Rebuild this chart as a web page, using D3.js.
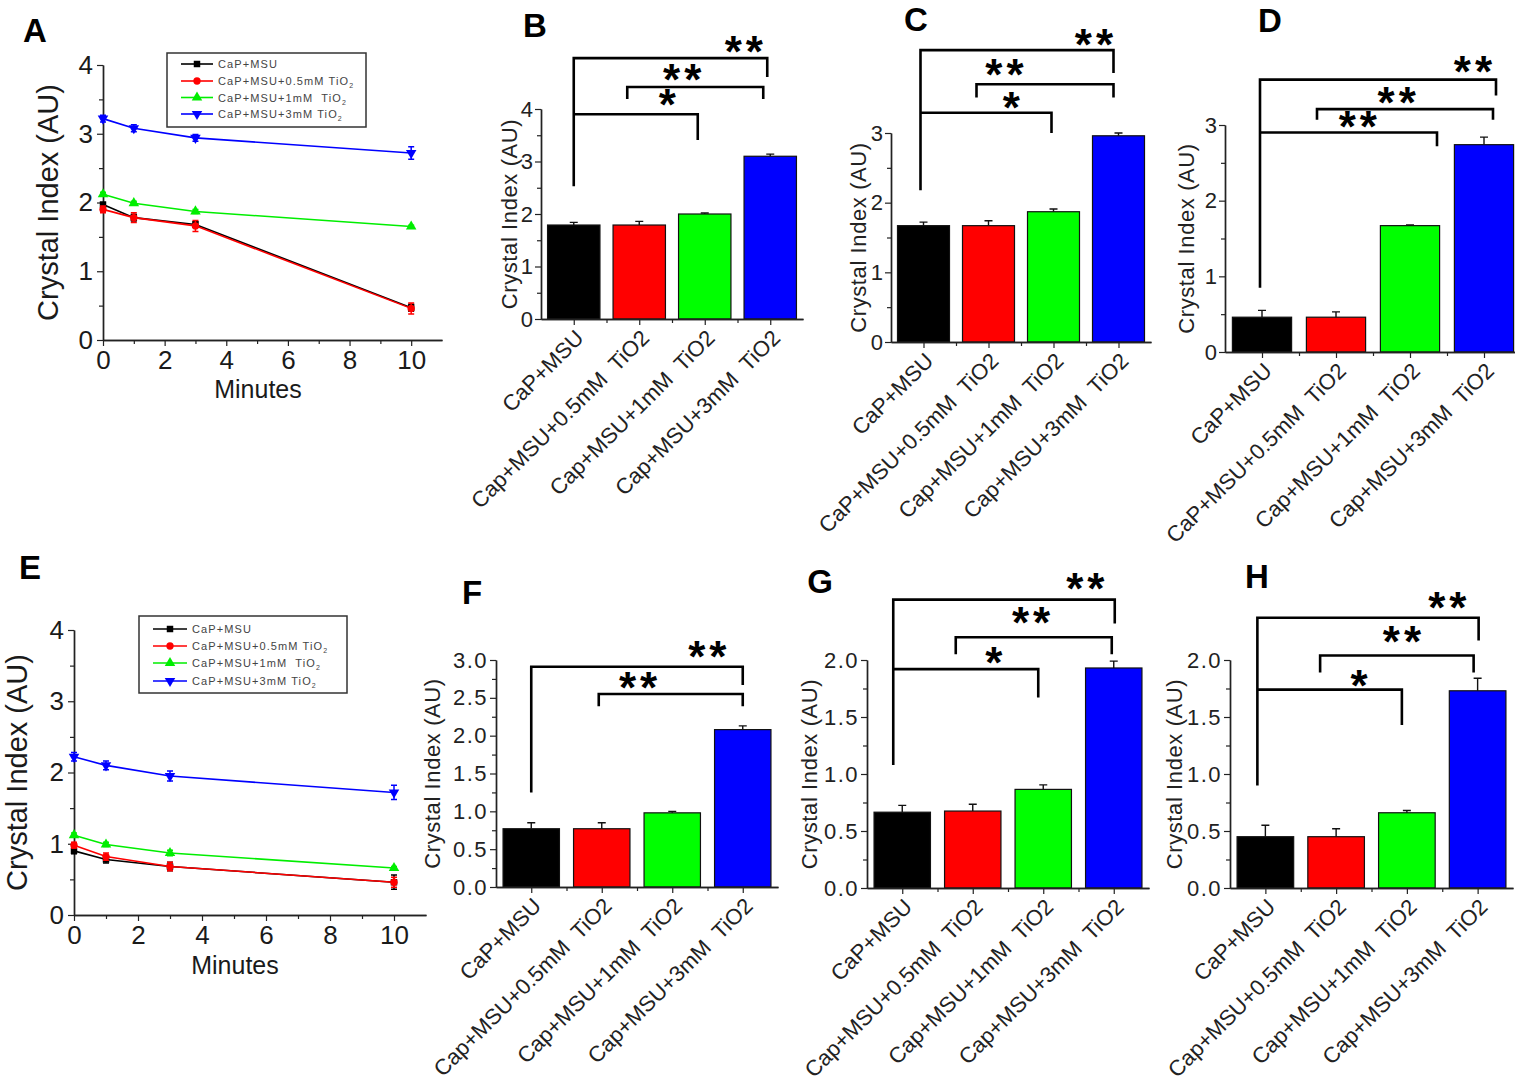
<!DOCTYPE html>
<html>
<head>
<meta charset="utf-8">
<script src="https://cdn.jsdelivr.net/npm/d3@7"></script>
<style>
  body { margin: 0; background: #fff; }
  text { font-family: "Liberation Sans", Arial, Helvetica, sans-serif; fill: #1a1a1a; white-space: pre; }
</style>
</head>
<body>
<svg id="fig" width="1515" height="1083"></svg>
<script>
/* ---------- data ---------- */

// time course (panels A and E)
const minutes = [0, 1, 3, 10];
const seriesNames = ["CaP+MSU", "CaP+MSU+0.5mM TiO", "CaP+MSU+1mM  TiO", "CaP+MSU+3mM TiO"];
const seriesSub = ["", "2", "2", "2"];

const meanA = [
  [1.97, 1.78, 1.68, 0.47],
  [1.90, 1.78, 1.66, 0.46],
  [2.12, 1.99, 1.87, 1.65],
  [3.22, 3.08, 2.94, 2.72]
];
const errA = [
  [0.03, 0.05, 0.04, 0.05],
  [0.05, 0.07, 0.08, 0.08],
  [0.03, 0.03, 0.03, 0.02],
  [0.05, 0.05, 0.05, 0.09]
];
const meanE = [
  [0.90, 0.78, 0.68, 0.46],
  [0.98, 0.82, 0.68, 0.46],
  [1.12, 0.99, 0.87, 0.66],
  [2.22, 2.10, 1.95, 1.72]
];
const errE = [
  [0.04, 0.05, 0.06, 0.10],
  [0.04, 0.05, 0.06, 0.07],
  [0.03, 0.03, 0.04, 0.02],
  [0.06, 0.06, 0.07, 0.10]
];

// bar panels
const barLabels = ["CaP+MSU", "Cap+MSU+0.5mM  TiO2", "Cap+MSU+1mM  TiO2", "Cap+MSU+3mM  TiO2"];
const barLabelsCaP = ["CaP+MSU", "CaP+MSU+0.5mM  TiO2", "Cap+MSU+1mM  TiO2", "Cap+MSU+3mM  TiO2"];

const barB = [1.79, 1.79, 2.00, 3.10], errB = [0.05, 0.07, 0.02, 0.04];
const barC = [1.67, 1.67, 1.87, 2.96], errC = [0.05, 0.07, 0.04, 0.04];
const barD = [0.46, 0.46, 1.67, 2.74], errD = [0.09, 0.07, 0.01, 0.10];
const barF = [0.77, 0.77, 0.98, 2.08], errF = [0.08, 0.08, 0.02, 0.05];
const barG = [0.665, 0.675, 0.865, 1.93], errG = [0.06, 0.06, 0.04, 0.06];
const barH = [0.45, 0.45, 0.66, 1.73], errH = [0.10, 0.07, 0.02, 0.11];

// significance brackets: [from, to, top, leftEnd, rightEnd, stars, starFrac, starY, dxFrom, dxTo]
const sigB = [
  [0, 3, 4.97, 2.53, 4.61, "**", 0.876, 5.18, 0, -3],
  [1, 3, 4.42, 4.19, 4.19, "**", 0.40, 4.65, -12, -7],
  [0, 2, 3.90, 3.90, 3.41, "*", 0.75, 4.17, 0, -7]
];
const sigC = [
  [0, 3, 4.19, 2.18, 3.86, "**", 0.896, 4.33, -3, -5],
  [1, 3, 3.70, 3.51, 3.51, "**", 0.20, 3.90, -12, -5],
  [0, 2, 3.29, 3.29, 3.00, "*", 0.69, 3.43, -3, -2]
];
const sigD = [
  [0, 3, 3.60, 0.85, 3.39, "**", 0.90, 3.77, -2, 12],
  [1, 3, 3.21, 3.07, 3.07, "**", 0.45, 3.36, -19, 9],
  [0, 2, 2.90, 2.90, 2.72, "**", 0.55, 3.04, -2, 27]
];
const sigF = [
  [0, 3, 2.91, 1.25, 2.67, "**", 0.83, 3.10, 0, 0],
  [1, 3, 2.55, 2.39, 2.39, "**", 0.27, 2.69, -3, 0]
];
const sigG = [
  [0, 3, 2.53, 1.08, 2.32, "**", 0.865, 2.67, -9, 1],
  [1, 3, 2.20, 2.05, 2.05, "**", 0.48, 2.37, -17, -2],
  [0, 2, 1.92, 1.92, 1.67, "*", 0.69, 2.02, -9, -5]
];
const sigH = [
  [0, 3, 2.37, 0.90, 2.17, "**", 0.856, 2.50, -8, 1],
  [1, 3, 2.04, 1.89, 1.89, "**", 0.53, 2.20, -16, -4],
  [0, 2, 1.74, 1.74, 1.43, "*", 0.70, 1.82, -8, -5]
];

const colors = ["#000000", "#ff0000", "#00ee00", "#0000ff"];
const barColors = ["#000000", "#ff0000", "#00ff00", "#0000ff"];

/* ---------- drawing ---------- */

const svg = d3.select("#fig");
svg.append("rect").attr("width", 1515).attr("height", 1083).attr("fill", "#fff");

const panelLetter = (txt, x, y) =>
  svg.append("text").attr("x", x).attr("y", y)
    .attr("text-anchor", "middle").attr("dominant-baseline", "central")
    .style("font-size", "33px").style("font-weight", "bold").style("fill", "#000")
    .text(txt);

const styleAxis = (g) => {
  g.selectAll(".domain").attr("stroke", "#222").attr("stroke-width", 1.4);
  g.selectAll(".tick line").attr("stroke", "#222").attr("stroke-width", 1.2);
};

const symbols = [
  d3.symbol().type(d3.symbolSquare).size(42),
  d3.symbol().type(d3.symbolCircle).size(42),
  d3.symbol().type(d3.symbolTriangle).size(48),
  d3.symbol().type(d3.symbolTriangle).size(48)
];

function linePanel(p, means, errs) {
  const x = d3.scaleLinear().domain([0, 11]).range([p.left, p.right]);
  const y = d3.scaleLinear().domain([0, 4]).range([p.bottom, p.top]);
  const g = svg.append("g");

  // minor ticks
  const yMinor = g.append("g").attr("transform", `translate(${p.left},0)`)
    .call(d3.axisLeft(y).tickValues([0.5, 1.5, 2.5, 3.5]).tickSize(4).tickFormat("").tickSizeOuter(0));
  const xMinor = g.append("g").attr("transform", `translate(0,${p.bottom})`)
    .call(d3.axisBottom(x).tickValues([1, 3, 5, 7, 9]).tickSize(4).tickFormat("").tickSizeOuter(0));
  const yAx = g.append("g").attr("transform", `translate(${p.left},0)`)
    .call(d3.axisLeft(y).tickValues([0, 1, 2, 3, 4]).tickSize(6).tickPadding(4)
      .tickFormat(d3.format("d")).tickSizeOuter(0));
  const xAx = g.append("g").attr("transform", `translate(0,${p.bottom})`)
    .call(d3.axisBottom(x).tickValues([0, 2, 4, 6, 8, 10]).tickSize(6).tickPadding(5)
      .tickFormat(d3.format("d")).tickSizeOuter(0));
  [yMinor, xMinor, yAx, xAx].forEach(styleAxis);
  yAx.selectAll("text").style("font-size", p.tickFont + "px").style("fill", "#1a1a1a");
  xAx.selectAll("text").style("font-size", p.tickFont + "px").style("fill", "#1a1a1a");

  g.append("text")
    .attr("transform", `translate(${p.ylabX},${(p.top + p.bottom) / 2}) rotate(-90)`)
    .attr("text-anchor", "middle").attr("dominant-baseline", "central")
    .style("font-size", "29px").text("Crystal Index (AU)");
  g.append("text").attr("x", p.xlabX).attr("y", p.xlabY)
    .attr("text-anchor", "middle").attr("dominant-baseline", "central")
    .style("font-size", "25px").text("Minutes");

  const line = d3.line().x((d, i) => x(minutes[i])).y((d) => y(d));

  means.forEach((m, s) => {
    const sg = g.append("g");
    sg.append("path").attr("d", line(m)).attr("fill", "none")
      .attr("stroke", colors[s]).attr("stroke-width", 1.6);
    m.forEach((v, i) => {
      const cx = x(minutes[i]), e = errs[s][i];
      sg.append("path")
        .attr("d", `M${cx},${y(v - e)}V${y(v + e)}M${cx - 3},${y(v - e)}h6M${cx - 3},${y(v + e)}h6`)
        .attr("stroke", colors[s]).attr("stroke-width", 1.5).attr("fill", "none");
      sg.append("path").attr("d", symbols[s]())
        .attr("transform", `translate(${cx},${y(v)})${s === 3 ? " rotate(180)" : ""}`)
        .attr("fill", colors[s]);
    });
  });

  // legend
  const L = p.legend;
  const lg = g.append("g").attr("transform", `translate(${L.x},${L.y})`);
  lg.append("rect").attr("width", L.w).attr("height", L.h)
    .attr("fill", "#fff").attr("stroke", "#333").attr("stroke-width", 1.5);
  seriesNames.forEach((name, s) => {
    const ry = L.rows[s];
    lg.append("line").attr("x1", L.lx).attr("x2", L.lx + L.lw).attr("y1", ry).attr("y2", ry)
      .attr("stroke", colors[s]).attr("stroke-width", 1.6);
    lg.append("path").attr("d", symbols[s]())
      .attr("transform", `translate(${L.lx + L.lw / 2},${ry})${s === 3 ? " rotate(180)" : ""}`)
      .attr("fill", colors[s]);
    const t = lg.append("text").attr("x", L.lx + L.lw + 5).attr("y", ry)
      .attr("dominant-baseline", "central")
      .style("font-size", "11px").style("letter-spacing", "1.1px").style("fill", "#444")
      .text(name);
    if (seriesSub[s]) {
      t.append("tspan").attr("dy", 4).style("font-size", "7px").text(seriesSub[s]);
    }
  });
}

function barPanel(p, values, errs, labels, sig) {
  const x = d3.scaleBand().domain(d3.range(4)).range([p.left, p.right])
    .paddingInner(0.2).paddingOuter(0.1);
  const y = d3.scaleLinear().domain([0, p.ymax]).range([p.bottom, p.top]);
  const g = svg.append("g");

  // bars
  g.selectAll(".bar").data(values).join("rect").attr("class", "bar")
    .attr("x", (d, i) => x(i)).attr("width", x.bandwidth())
    .attr("y", (d) => y(d)).attr("height", (d) => y(0) - y(d))
    .attr("fill", (d, i) => barColors[i]).attr("stroke", "#111").attr("stroke-width", 1.2);

  // upper error bars
  g.selectAll(".err").data(values).join("path").attr("class", "err")
    .attr("d", (d, i) => {
      const cx = x(i) + x.bandwidth() / 2;
      return `M${cx},${y(d)}V${y(d + errs[i])}M${cx - 4},${y(d + errs[i])}h8`;
    })
    .attr("stroke", "#111").attr("stroke-width", 1.4).attr("fill", "none");

  // axes
  const minors = d3.range(p.step / 2, p.ymax, p.step);
  const majors = d3.range(0, p.ymax + 1e-9, p.step);
  const yMinor = g.append("g").attr("transform", `translate(${p.left},0)`)
    .call(d3.axisLeft(y).tickValues(minors).tickSize(4).tickFormat("").tickSizeOuter(0));
  const yAx = g.append("g").attr("transform", `translate(${p.left},0)`)
    .call(d3.axisLeft(y).tickValues(majors).tickSize(6).tickPadding(2)
      .tickFormat(d3.format(p.fmt)).tickSizeOuter(0));
  yAx.selectAll("text").style("font-size", "22px").style("letter-spacing", p.fmt === "d" ? "0px" : "1.5px")
    .style("fill", "#222");

  const px = d3.scaleLinear().domain([p.left, p.right]).range([p.left, p.right]);
  const xAx = g.append("g").attr("transform", `translate(0,${p.bottom})`)
    .call(d3.axisBottom(px)
      .tickValues(d3.range(4).map((i) => x(i) + x.bandwidth() / 2)).tickSize(6)
      .tickFormat("").tickSizeOuter(0));
  const xMinor = g.append("g").attr("transform", `translate(0,${p.bottom})`)
    .call(d3.axisBottom(px)
      .tickValues(d3.range(1, 4).map((i) => x(i) - x.step() * 0.1)).tickSize(4)
      .tickFormat("").tickSizeOuter(0));
  [yMinor, yAx, xAx, xMinor].forEach(styleAxis);

  // rotated category labels
  g.selectAll(".cat").data(labels).join("text").attr("class", "cat")
    .attr("transform", (d, i) =>
      `translate(${x(i) + x.bandwidth() / 2 + 6},${p.bottom + 15}) rotate(-45)`)
    .attr("text-anchor", "end").attr("dominant-baseline", "central")
    .style("font-size", "22px").style("fill", "#222")
    .text((d) => d);

  // y title
  g.append("text")
    .attr("transform", `translate(${p.ylabX},${(p.top + p.bottom) / 2}) rotate(-90)`)
    .attr("text-anchor", "middle").attr("dominant-baseline", "central")
    .style("font-size", "22px").style("letter-spacing", "0.6px").style("fill", "#222")
    .text("Crystal Index (AU)");

  // significance brackets
  sig.forEach(([a, b, top, yl, yr, stars, frac, sy, dxa, dxb]) => {
    const xa = x(a) + x.bandwidth() / 2 + dxa;
    const xb = x(b) + x.bandwidth() / 2 + dxb;
    g.append("path")
      .attr("d", `M${xa},${y(yl)}V${y(top)}H${xb}V${y(yr)}`)
      .attr("fill", "none").attr("stroke", "#000").attr("stroke-width", 2.6);
    g.append("text").attr("x", xa + (xb - xa) * frac + 2.5).attr("y", y(sy) + 20)
      .attr("text-anchor", "middle")
      .style("font-size", "44px").style("font-weight", "bold")
      .style("letter-spacing", "4px").style("fill", "#000")
      .text(stars);
  });
}

/* ---------- panels ---------- */

linePanel({
  left: 103, right: 442, top: 65, bottom: 340, tickFont: 26,
  ylabX: 48, xlabX: 258, xlabY: 389,
  legend: { x: 167, y: 53, w: 199, h: 74, rows: [11, 28, 44.5, 61], lx: 14, lw: 32 }
}, meanA, errA);

linePanel({
  left: 74, right: 426, top: 630, bottom: 915, tickFont: 26,
  ylabX: 17, xlabX: 235, xlabY: 965,
  legend: { x: 139, y: 616, w: 208, h: 77, rows: [13, 30, 47, 65], lx: 14, lw: 34 }
}, meanE, errE);

barPanel({ left: 541, right: 803, top: 109, bottom: 319, ymax: 4, step: 1, fmt: "d", ylabX: 509 },
  barB, errB, barLabels, sigB);
barPanel({ left: 891, right: 1151, top: 133, bottom: 342, ymax: 3, step: 1, fmt: "d", ylabX: 858 },
  barC, errC, barLabelsCaP, sigC);
barPanel({ left: 1225, right: 1521, top: 125, bottom: 352, ymax: 3, step: 1, fmt: "d", ylabX: 1186 },
  barD, errD, barLabelsCaP, sigD);
barPanel({ left: 496, right: 778, top: 660, bottom: 887, ymax: 3, step: 0.5, fmt: ".1f", ylabX: 432 },
  barF, errF, barLabels, sigF);
barPanel({ left: 867, right: 1149, top: 660, bottom: 888, ymax: 2, step: 0.5, fmt: ".1f", ylabX: 809 },
  barG, errG, barLabels, sigG);
barPanel({ left: 1230, right: 1513, top: 660, bottom: 888, ymax: 2, step: 0.5, fmt: ".1f", ylabX: 1174 },
  barH, errH, barLabels, sigH);

[["A", 35, 30], ["B", 535, 25], ["C", 916, 19], ["D", 1270, 20],
 ["E", 30, 567], ["F", 472, 592], ["G", 820, 581], ["H", 1257, 576]]
  .forEach(([t, px, py]) => panelLetter(t, px, py));
</script>
</body>
</html>
